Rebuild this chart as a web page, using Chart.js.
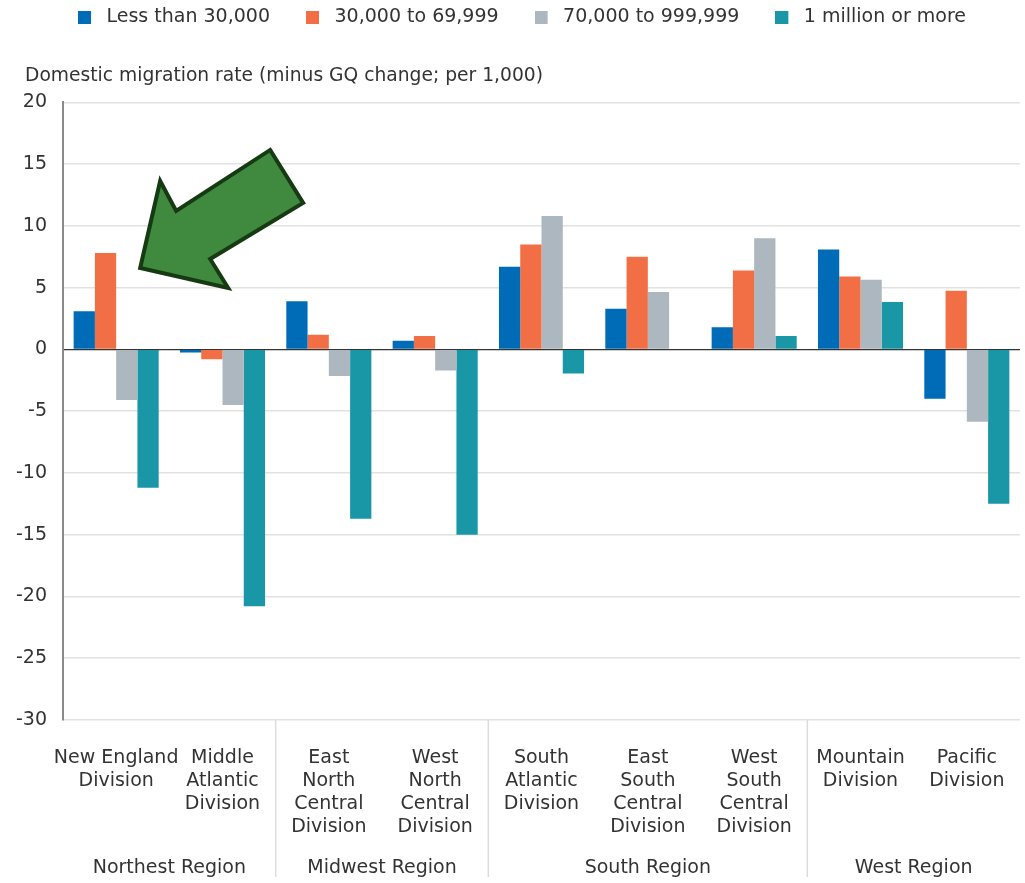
<!DOCTYPE html>
<html>
<head>
<meta charset="utf-8">
<script src="https://cdn.jsdelivr.net/npm/chart.js@4.4.1/dist/chart.umd.min.js"></script>
<style>
  html, body { margin: 0; padding: 0; background: #fff; }
</style>
</head>
<body>
<canvas id="myChart" width="1025" height="883"></canvas>
<script>
// data
const divisions = [
  ['New England', 'Division'],
  ['Middle', 'Atlantic', 'Division'],
  ['East', 'North', 'Central', 'Division'],
  ['West', 'North', 'Central', 'Division'],
  ['South', 'Atlantic', 'Division'],
  ['East', 'South', 'Central', 'Division'],
  ['West', 'South', 'Central', 'Division'],
  ['Mountain', 'Division'],
  ['Pacific', 'Division']
];
const regions = ['Northest Region', 'Midwest Region', 'South Region', 'West Region'];
const regionSizes = [2, 2, 3, 2]; // divisions per region

const seriesNames = ['Less than 30,000', '30,000 to 69,999', '70,000 to 999,999', '1 million or more'];
const lessThan30k = [3.1, -0.25, 3.9, 0.7, 6.7, 3.3, 1.8, 8.1, -4.0];
const from30kTo70k = [7.8, -0.8, 1.2, 1.1, 8.5, 7.5, 6.4, 5.9, 4.75];
const from70kTo1m = [-4.1, -4.5, -2.15, -1.7, 10.8, 4.65, 9.0, 5.65, -5.85];
const millionPlus = [-11.2, -20.8, -13.7, -15.0, -1.95, null, 1.1, 3.85, -12.5];

const yMin = -30;
const yMax = 20;
const yStep = 5;
const axisTitle = 'Domestic migration rate (minus GQ change; per 1,000)';

const colors = ['#006bb6', '#f26f45', '#adb7bf', '#1a97a6'];
const textColor = '#333';
const fontFamily = '"DejaVu Sans", sans-serif';
const fontSize = 19;

// legend swatch: square with some empty room on its right
function makeSwatch(color) {
  const c = document.createElement('canvas');
  c.width = 19;
  c.height = 13;
  const g = c.getContext('2d');
  g.fillStyle = color;
  g.fillRect(0, 0, 13, 13);
  return c;
}
const swatches = colors.map(makeSwatch);

// region separators + region names under the division labels
const regionPlugin = {
  id: 'regionLabels',
  afterDraw(chart) {
    const { ctx, chartArea } = chart;
    const x = chart.scales.x;
    const step = x.getPixelForValue(1) - x.getPixelForValue(0);
    let start = 0;
    ctx.save();
    ctx.font = fontSize + 'px ' + fontFamily;
    ctx.fillStyle = textColor;
    ctx.textAlign = 'center';
    ctx.textBaseline = 'middle';
    ctx.strokeStyle = '#dcdcdc';
    ctx.lineWidth = 1.5;
    regionSizes.forEach((n, i) => {
      const left = x.getPixelForValue(start) - step / 2;
      const right = x.getPixelForValue(start + n - 1) + step / 2;
      ctx.fillText(regions[i], (left + right) / 2, chart.height - 15);
      if (i < regionSizes.length - 1) {
        ctx.beginPath();
        ctx.moveTo(right, chartArea.bottom);
        ctx.lineTo(right, chart.height - 6);
        ctx.stroke();
      }
      start += n;
    });
    ctx.restore();
  }
};

// the green call-out arrow pointing at New England
const arrowPlugin = {
  id: 'arrow',
  afterDatasetsDraw(chart) {
    const { ctx } = chart;
    const tipX = chart.scales.x.getPixelForValue(0) + 24;
    const tipY = chart.scales.y.getPixelForValue(6.6);
    const pts = [[0, 0], [20, -87], [36, -57], [130, -118], [163, -65], [70, -9], [88, 20]];
    ctx.save();
    ctx.beginPath();
    pts.forEach((p, i) => {
      if (i === 0) ctx.moveTo(tipX + p[0], tipY + p[1]);
      else ctx.lineTo(tipX + p[0], tipY + p[1]);
    });
    ctx.closePath();
    ctx.fillStyle = '#3f8a3f';
    ctx.fill();
    ctx.lineWidth = 4;
    ctx.lineJoin = 'miter';
    ctx.strokeStyle = '#163a12';
    ctx.stroke();
    ctx.restore();
  }
};

// nudge the axis title and the legend into place
const blockShift = {
  id: 'blockShift',
  afterLayout(chart) {
    chart.titleBlock.left = chart.chartArea.left - 38;
    chart.legend.left += 7;
    chart.legend.right += 7;
  }
};

const ctx = document.getElementById('myChart').getContext('2d');

new Chart(ctx, {
  type: 'bar',
  data: {
    labels: divisions,
    datasets: [lessThan30k, from30kTo70k, from70kTo1m, millionPlus].map((d, i) => ({
      label: seriesNames[i],
      data: d,
      backgroundColor: colors[i],
      borderWidth: 0,
      categoryPercentage: 0.8,
      barPercentage: 1.0
    }))
  },
  options: {
    responsive: false,
    animation: false,
    layout: { padding: { left: 10, right: 5, top: -28, bottom: 0 } },
    plugins: {
      tooltip: { enabled: false },
      legend: {
        position: 'top',
        labels: {
          usePointStyle: true,
          pointStyleWidth: 19,
          boxHeight: 13,
          padding: 36,
          color: textColor,
          font: { size: fontSize, family: fontFamily },
          generateLabels(chart) {
            const items = Chart.defaults.plugins.legend.labels.generateLabels(chart);
            items.forEach((it, i) => { it.pointStyle = swatches[i]; });
            return items;
          }
        }
      },
      title: {
        display: true,
        text: axisTitle,
        align: 'start',
        weight: 500,
        color: textColor,
        font: { size: 18.7, family: fontFamily, weight: 'normal' },
        padding: { top: 28, bottom: 15 }
      }
    },
    scales: {
      x: {
        grid: { display: false, drawTicks: false },
        border: { display: false },
        ticks: {
          autoSkip: false,
          maxRotation: 0,
          padding: 26,
          color: textColor,
          font: { size: fontSize, family: fontFamily, lineHeight: 1.22 }
        },
        afterFit(scale) {
          scale.height = 163;
          scale.paddingLeft = 0;
          scale.paddingRight = 0;
        }
      },
      y: {
        min: yMin,
        max: yMax,
        ticks: {
          stepSize: yStep,
          padding: 16,
          color: textColor,
          font: { size: fontSize, family: fontFamily }
        },
        grid: {
          drawTicks: false,
          lineWidth: c => c.tick && c.tick.value === 0 ? 1.2 : 1.5,
          color: c => c.tick && c.tick.value === 0 ? '#333' : '#e2e2e2'
        },
        border: { color: '#8a8a8a', width: 2 },
        afterFit(scale) { scale.width = 53; }
      }
    }
  },
  plugins: [regionPlugin, arrowPlugin, blockShift]
});
</script>
</body>
</html>
